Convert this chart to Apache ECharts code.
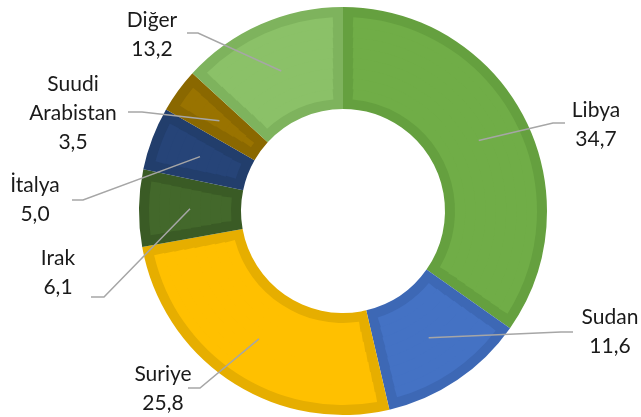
<!DOCTYPE html>
<html>
<head>
<meta charset="utf-8">
<script src="https://cdn.jsdelivr.net/npm/echarts@6/dist/echarts.min.js"></script>
<style>
html, body { margin: 0; padding: 0; background: #fff; }
#chart { width: 641px; height: 417px; }
</style>
</head>
<body>
<div id="chart"></div>
<script>
// data
const categories = ['Libya', 'Sudan', 'Suriye', 'Irak', 'İtalya', 'Suudi Arabistan', 'Diğer'];
const values = [34.7, 11.6, 25.8, 6.1, 5.0, 3.5, 13.2];

// styles
const fillColors = ['#70AD47', '#4472C4', '#FFC000', '#43682B', '#264478', '#997300', '#8BC168'];
const edgeColors = ['#65A03F', '#3D68B5', '#E6AE00', '#3A5B25', '#223E6C', '#8A6800', '#7EB35D'];

const CENTER = [343, 211];
const R_IN = 102;
const R_OUT = 204;
const BAND = 10;

// label placement (text block centre, end of leader line, elbow offset)
const labelPos = [[596, 125], [610, 332], [163, 389], [58, 273], [35, 200], [73, 113], [152, 35]];
const lineEnd = [[565, 123], [573, 332], [188, 388], [91, 297], [72, 200], [128, 112], [187, 33]];
const elbowDx = [-12, -12, 12, 13, 11, 14, 11];

const total = values.reduce((a, b) => a + b, 0);
const midAngles = [];
let acc = 0;
values.forEach(v => {
    midAngles.push((acc + v / 2) / total * Math.PI * 2);
    acc += v;
});

const fmt = v => v.toFixed(1).replace('.', ',');

const chart = echarts.init(document.getElementById('chart'));

const series = [];

// outer ring in the edge colour
series.push({
    type: 'pie',
    z: 2,
    center: CENTER,
    radius: [R_IN, R_OUT],
    startAngle: 90,
    clockwise: true,
    silent: true,
    animation: false,
    label: { show: false },
    labelLine: { show: false },
    data: categories.map((name, i) => ({
        name,
        value: values[i],
        itemStyle: { color: edgeColors[i] }
    }))
});

// inner fill rings, padded so the edge colour shows as an even band
const RINGS = 8;
const r0 = R_IN + BAND;
const r1 = R_OUT - BAND;
const step = (r1 - r0) / RINGS;
for (let k = 0; k < RINGS; k++) {
    const a = r0 + k * step;
    const b = r0 + (k + 1) * step;
    const mid = (a + b) / 2;
    series.push({
        type: 'pie',
        z: 3,
        center: CENTER,
        radius: [a, k === RINGS - 1 ? b : b + 1],
        startAngle: 90,
        clockwise: true,
        padAngle: (2 * BAND / mid) * 180 / Math.PI,
        silent: true,
        animation: false,
        label: { show: false },
        labelLine: { show: false },
        data: categories.map((name, i) => ({
            name,
            value: values[i],
            itemStyle: { color: fillColors[i] }
        }))
    });
}

// transparent copy on top, only for labels and leader lines
series.push({
    type: 'pie',
    z: 10,
    center: CENTER,
    radius: [R_IN, R_OUT],
    startAngle: 90,
    clockwise: true,
    silent: true,
    animation: false,
    avoidLabelOverlap: false,
    itemStyle: { color: 'rgba(0,0,0,0)' },
    data: categories.map((name, i) => ({ name, value: values[i] })),
    label: {
        show: true,
        position: 'outside',
        formatter: p => p.name.replace(' ', '\n') + '\n' + fmt(p.value),
        fontFamily: 'Lato, "Noto Sans", sans-serif',
        fontSize: 21,
        lineHeight: 29,
        color: '#1a1a1a',
        align: 'center'
    },
    labelLine: {
        show: true,
        length: 10,
        length2: 10,
        lineStyle: { color: '#A6A6A6', width: 1.5 }
    },
    labelLayout: p => {
        const i = p.dataIndex;
        const rMid = (R_IN + R_OUT) / 2;
        const a = midAngles[i];
        const start = [CENTER[0] + rMid * Math.sin(a), CENTER[1] - rMid * Math.cos(a)];
        const end = lineEnd[i];
        const elbow = [end[0] + elbowDx[i], end[1]];
        return {
            x: labelPos[i][0],
            y: labelPos[i][1],
            align: 'center',
            verticalAlign: 'middle',
            labelLinePoints: [start, elbow, end]
        };
    }
});

chart.setOption({
    backgroundColor: '#fff',
    animation: false,
    series
});
</script>
</body>
</html>
